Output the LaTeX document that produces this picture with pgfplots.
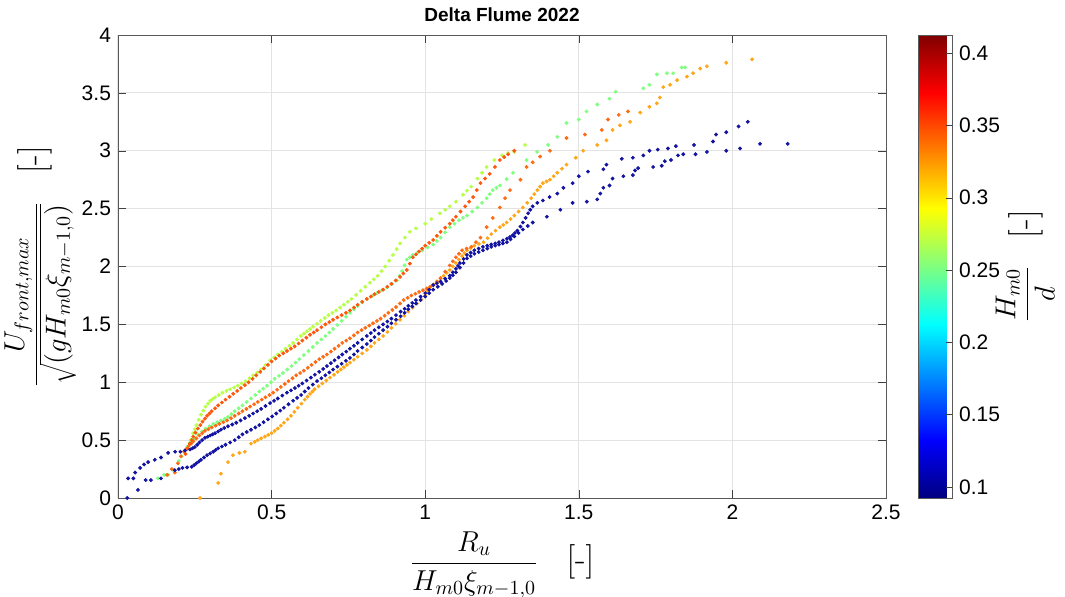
\documentclass[border=0pt]{standalone}
\usepackage{fontspec}
\setmainfont{Liberation Sans}
\newfontfamily\lmr{Latin Modern Roman}
\usepackage{pgfplots}
\pgfplotsset{compat=1.18}
\definecolor{cblue}{rgb}{0.08,0.08,0.64}
\definecolor{cgreen}{rgb}{0.5,1,0.5}
\definecolor{cyg}{rgb}{0.72,1,0.28}
\definecolor{corange}{rgb}{1,0.65,0.1}
\definecolor{cred}{rgb}{1,0.34,0.05}
\definecolor{cred2}{rgb}{1,0.42,0.08}
\pgfplotsset{dots/.style={only marks, mark=*, mark size=0.75pt}}

\pgfplotstableread{
x y
0.033 0.17
0.050 0.17
0.056 0.22
0.072 0.26
0.085 0.29
0.098 0.31
0.120 0.33
0.140 0.35
0.163 0.39
0.186 0.40
0.203 0.40
0.218 0.41
0.235 0.42
0.243 0.43
0.250 0.44
0.258 0.46
0.265 0.48
0.274 0.50
0.283 0.52
0.292 0.53
0.300 0.54
0.308 0.55
0.316 0.56
0.326 0.575
0.335 0.59
0.346 0.605
0.358 0.62
0.372 0.635
0.385 0.65
0.399 0.67
0.413 0.69
0.427 0.71
0.440 0.73
0.453 0.75
0.466 0.77
0.480 0.795
0.495 0.82
0.508 0.84
0.520 0.86
0.535 0.885
0.550 0.91
0.563 0.93
0.576 0.95
0.588 0.97
0.600 0.99
0.614 1.015
0.628 1.04
0.641 1.065
0.655 1.09
0.668 1.115
0.680 1.14
0.693 1.165
0.705 1.19
0.718 1.215
0.730 1.24
0.743 1.265
0.755 1.29
0.768 1.315
0.780 1.34
0.795 1.37
0.810 1.40
0.823 1.425
0.835 1.45
0.849 1.475
0.863 1.50
0.877 1.525
0.890 1.55
0.905 1.58
0.920 1.61
0.933 1.635
0.945 1.66
0.958 1.685
0.970 1.71
0.985 1.74
1.000 1.77
1.013 1.80
1.026 1.84
1.038 1.855
1.050 1.87
1.065 1.895
1.080 1.92
1.090 1.95
1.100 1.98
1.107 2.005
1.113 2.03
1.125 2.065
1.136 2.10
1.148 2.12
1.160 2.14
1.174 2.155
1.188 2.17
1.202 2.18
1.215 2.19
1.228 2.20
1.240 2.21
1.253 2.225
1.266 2.24
1.276 2.255
1.285 2.27
1.292 2.29
1.300 2.31
1.310 2.345
1.318 2.38
1.327 2.42
1.335 2.46
1.342 2.49
1.350 2.52
1.365 2.55
1.383 2.57
1.405 2.60
1.430 2.63
1.450 2.68
1.480 2.72
1.500 2.78
1.530 2.82
1.580 2.84
1.590 2.88
1.640 2.93
1.676 2.94
1.710 2.96
1.730 3.00
1.757 3.01
1.790 3.02
1.816 3.04
1.875 3.05
1.937 3.08
1.947 3.14
1.980 3.16
2.020 3.21
2.050 3.25
}\blueA

\pgfplotstableread{
x y
0.030 0.00
0.065 0.07
0.090 0.155
0.107 0.155
0.140 0.17
0.185 0.24
0.198 0.25
0.210 0.26
0.225 0.265
0.240 0.27
0.248 0.285
0.255 0.30
0.263 0.315
0.270 0.33
0.280 0.35
0.290 0.37
0.300 0.385
0.310 0.40
0.318 0.415
0.326 0.43
0.338 0.445
0.350 0.46
0.365 0.48
0.380 0.50
0.393 0.525
0.405 0.55
0.419 0.57
0.433 0.59
0.447 0.61
0.460 0.63
0.474 0.655
0.488 0.68
0.502 0.705
0.515 0.73
0.528 0.755
0.540 0.78
0.555 0.81
0.570 0.84
0.583 0.865
0.596 0.89
0.608 0.92
0.620 0.95
0.634 0.98
0.648 1.01
0.662 1.035
0.675 1.06
0.688 1.085
0.700 1.11
0.714 1.135
0.728 1.16
0.742 1.185
0.755 1.21
0.768 1.24
0.780 1.27
0.795 1.30
0.810 1.33
0.823 1.36
0.835 1.39
0.849 1.42
0.863 1.45
0.877 1.48
0.890 1.51
0.905 1.54
0.920 1.57
0.933 1.60
0.945 1.63
0.958 1.655
0.970 1.68
0.985 1.71
1.000 1.74
1.013 1.77
1.026 1.80
1.041 1.825
1.055 1.85
1.068 1.875
1.080 1.90
1.090 1.925
1.100 1.95
1.113 1.99
1.125 2.03
1.136 2.07
1.148 2.09
1.160 2.11
1.174 2.125
1.188 2.14
1.202 2.155
1.215 2.17
1.228 2.18
1.240 2.19
1.253 2.20
1.266 2.21
1.278 2.235
1.290 2.26
1.304 2.29
1.318 2.32
1.334 2.35
1.350 2.38
1.396 2.43
1.440 2.49
1.480 2.55
1.526 2.56
1.560 2.58
1.570 2.63
1.580 2.68
1.600 2.70
1.610 2.76
1.645 2.78
1.676 2.79
1.683 2.83
1.693 2.85
1.742 2.86
1.770 2.87
1.780 2.91
1.800 2.92
1.823 2.96
1.840 2.97
1.880 2.97
1.917 2.99
1.980 3.00
2.025 3.02
2.090 3.06
2.180 3.06
}\blueB

\pgfplotstableread{
x y
0.267 0.00
0.326 0.13
0.335 0.21
0.358 0.31
0.374 0.37
0.395 0.39
0.413 0.40
0.433 0.47
0.445 0.485
0.455 0.50
0.466 0.515
0.478 0.53
0.489 0.545
0.500 0.56
0.510 0.58
0.520 0.60
0.530 0.625
0.540 0.65
0.552 0.68
0.563 0.71
0.574 0.745
0.585 0.78
0.597 0.815
0.608 0.85
0.617 0.875
0.625 0.90
0.633 0.92
0.640 0.94
0.653 0.965
0.665 0.99
0.678 1.015
0.690 1.04
0.703 1.065
0.715 1.09
0.725 1.11
0.735 1.13
0.745 1.15
0.755 1.17
0.768 1.195
0.780 1.22
0.795 1.25
0.810 1.28
0.823 1.31
0.835 1.34
0.849 1.37
0.863 1.40
0.877 1.435
0.890 1.47
0.904 1.505
0.918 1.54
0.932 1.575
0.945 1.61
0.959 1.645
0.973 1.68
0.987 1.715
1.000 1.75
1.008 1.785
1.016 1.82
1.028 1.845
1.040 1.87
1.050 1.895
1.060 1.92
1.070 1.945
1.080 1.97
1.090 2.00
1.100 2.03
1.110 2.06
1.120 2.09
1.128 2.115
1.136 2.14
1.148 2.16
1.160 2.18
1.175 2.195
1.190 2.21
1.203 2.245
1.215 2.28
1.229 2.31
1.243 2.34
1.254 2.36
1.265 2.38
1.278 2.41
1.290 2.44
1.304 2.475
1.318 2.51
1.332 2.55
1.345 2.59
1.355 2.625
1.365 2.66
1.374 2.69
1.383 2.72
1.395 2.735
1.406 2.75
1.418 2.78
1.430 2.81
1.445 2.845
1.460 2.88
1.490 2.94
1.514 3.00
1.560 3.05
1.590 3.09
1.610 3.18
1.634 3.22
1.667 3.25
1.700 3.33
1.730 3.38
1.754 3.41
1.764 3.46
1.775 3.55
1.797 3.57
1.820 3.61
1.852 3.64
1.872 3.67
1.895 3.71
1.917 3.73
1.980 3.76
2.064 3.79
}\orangeS

\pgfplotstableread{
x y
0.160 0.20
0.175 0.25
0.185 0.22
0.195 0.30
0.205 0.36
0.215 0.40
0.223 0.425
0.230 0.45
0.238 0.47
0.245 0.49
0.255 0.515
0.265 0.54
0.274 0.56
0.283 0.58
0.294 0.595
0.305 0.61
0.318 0.625
0.330 0.64
0.343 0.655
0.355 0.67
0.368 0.69
0.380 0.71
0.393 0.73
0.405 0.75
0.418 0.77
0.430 0.79
0.443 0.81
0.455 0.83
0.468 0.85
0.480 0.87
0.493 0.89
0.505 0.91
0.518 0.935
0.530 0.96
0.543 0.985
0.555 1.01
0.568 1.035
0.580 1.06
0.593 1.08
0.605 1.10
0.618 1.125
0.630 1.15
0.643 1.175
0.655 1.20
0.668 1.22
0.680 1.24
0.693 1.265
0.705 1.29
0.718 1.315
0.730 1.34
0.743 1.36
0.755 1.38
0.768 1.405
0.780 1.43
0.793 1.45
0.805 1.47
0.818 1.49
0.830 1.51
0.843 1.53
0.855 1.55
0.868 1.575
0.880 1.60
0.893 1.625
0.905 1.65
0.918 1.68
0.930 1.71
0.943 1.73
0.955 1.75
0.968 1.765
0.980 1.78
0.993 1.795
1.005 1.81
1.016 1.825
1.026 1.84
1.038 1.87
1.050 1.90
1.065 1.955
1.080 2.01
1.090 2.045
1.100 2.08
1.110 2.11
1.120 2.14
1.135 2.155
1.150 2.17
1.165 2.21
1.180 2.25
1.200 2.34
1.220 2.42
1.243 2.51
1.260 2.59
1.276 2.66
1.310 2.75
1.330 2.86
1.350 2.90
1.374 2.95
1.406 3.00
1.460 3.11
1.520 3.14
1.575 3.18
1.595 3.27
1.630 3.31
1.660 3.34
}\redB

\pgfplotstableread{
x y
0.220 0.38
0.227 0.425
0.234 0.47
0.240 0.50
0.245 0.53
0.252 0.565
0.260 0.60
0.268 0.63
0.275 0.66
0.283 0.685
0.290 0.71
0.298 0.73
0.305 0.75
0.316 0.775
0.326 0.80
0.338 0.825
0.350 0.85
0.363 0.875
0.375 0.90
0.388 0.925
0.400 0.95
0.413 0.975
0.425 1.00
0.438 1.03
0.450 1.06
0.463 1.09
0.475 1.12
0.488 1.15
0.500 1.18
0.513 1.205
0.525 1.23
0.538 1.25
0.550 1.27
0.563 1.29
0.575 1.31
0.588 1.335
0.600 1.36
0.613 1.385
0.625 1.41
0.637 1.43
0.648 1.45
0.662 1.475
0.675 1.50
0.688 1.52
0.700 1.54
0.714 1.56
0.728 1.58
0.742 1.60
0.755 1.62
0.768 1.645
0.780 1.67
0.795 1.695
0.810 1.72
0.823 1.74
0.835 1.76
0.849 1.78
0.863 1.80
0.877 1.825
0.890 1.85
0.904 1.88
0.918 1.91
0.929 1.94
0.940 1.97
0.950 2.025
0.960 2.08
0.970 2.105
0.980 2.13
0.990 2.155
1.000 2.18
1.013 2.205
1.026 2.23
1.038 2.265
1.050 2.30
1.065 2.335
1.080 2.37
1.090 2.40
1.100 2.43
1.115 2.475
1.130 2.52
1.143 2.56
1.156 2.60
1.168 2.66
1.180 2.72
1.195 2.76
1.210 2.80
1.227 2.86
1.243 2.92
1.257 2.945
1.270 2.97
1.290 3.00
}\redA

\pgfplotstableread{
x y
0.230 0.45
0.237 0.505
0.244 0.56
0.250 0.595
0.255 0.63
0.263 0.675
0.270 0.72
0.278 0.755
0.285 0.79
0.293 0.815
0.300 0.84
0.308 0.855
0.316 0.87
0.328 0.89
0.340 0.91
0.353 0.925
0.365 0.94
0.378 0.955
0.390 0.97
0.403 0.99
0.415 1.01
0.428 1.035
0.440 1.06
0.453 1.085
0.465 1.11
0.480 1.15
0.495 1.19
0.508 1.215
0.520 1.24
0.533 1.265
0.545 1.29
0.558 1.315
0.570 1.34
0.583 1.37
0.595 1.40
0.605 1.42
0.615 1.44
0.625 1.46
0.635 1.48
0.648 1.505
0.660 1.53
0.673 1.555
0.685 1.58
0.698 1.60
0.710 1.62
0.723 1.645
0.735 1.67
0.748 1.695
0.760 1.72
0.775 1.755
0.790 1.79
0.805 1.825
0.820 1.86
0.833 1.89
0.845 1.92
0.858 1.96
0.870 2.00
0.883 2.05
0.895 2.10
0.907 2.15
0.918 2.20
0.934 2.25
0.950 2.30
0.970 2.33
1.000 2.37
1.020 2.41
1.048 2.46
1.065 2.49
1.080 2.52
1.100 2.56
1.123 2.62
1.136 2.655
1.150 2.69
1.170 2.76
1.185 2.81
1.200 2.86
1.225 2.92
1.250 2.96
1.270 2.98
1.290 2.99
1.325 3.05
}\ygS

\pgfplotstableread{
x y
0.130 0.17
0.150 0.20
0.163 0.20
0.180 0.24
0.198 0.32
0.207 0.36
0.215 0.40
0.225 0.44
0.235 0.48
0.248 0.515
0.260 0.55
0.273 0.575
0.285 0.60
0.298 0.62
0.310 0.64
0.323 0.655
0.335 0.67
0.347 0.685
0.358 0.70
0.369 0.725
0.380 0.75
0.393 0.775
0.405 0.80
0.419 0.83
0.433 0.86
0.447 0.89
0.460 0.92
0.473 0.945
0.485 0.97
0.498 1.00
0.510 1.03
0.524 1.055
0.537 1.08
0.551 1.11
0.565 1.14
0.578 1.17
0.590 1.20
0.605 1.235
0.620 1.27
0.634 1.305
0.648 1.34
0.662 1.37
0.675 1.40
0.688 1.43
0.700 1.46
0.714 1.495
0.728 1.53
0.742 1.565
0.755 1.60
0.768 1.63
0.780 1.66
0.795 1.69
0.810 1.72
0.827 1.745
0.843 1.77
0.859 1.795
0.875 1.82
0.892 1.85
0.908 1.88
0.917 1.92
0.925 1.96
0.933 2.01
0.940 2.06
0.950 2.08
0.960 2.10
0.975 2.12
0.990 2.14
1.008 2.165
1.026 2.19
1.038 2.22
1.050 2.25
1.065 2.295
1.080 2.34
1.095 2.37
1.110 2.40
1.123 2.42
1.136 2.44
1.153 2.475
1.170 2.51
1.185 2.55
1.200 2.59
1.210 2.625
1.220 2.66
1.232 2.68
1.243 2.70
1.265 2.755
1.286 2.81
1.330 2.92
1.364 2.99
1.400 3.05
1.430 3.12
1.460 3.24
1.500 3.27
1.525 3.34
1.560 3.40
1.600 3.45
1.620 3.51
1.710 3.54
1.730 3.57
1.754 3.66
1.787 3.67
1.807 3.67
1.835 3.72
1.846 3.72
}\greenS

\begin{document}
\begin{tikzpicture}
\path[use as bounding box] (-59pt,-49pt) rectangle (473.5pt,249pt);
\begin{axis}[
  at={(0,0)}, anchor=south west,
  scale only axis, width=384pt, height=231.5pt,
  xmin=0, xmax=2.5, ymin=0, ymax=4,
  xtick={0,0.5,1,1.5,2,2.5}, ytick={0,0.5,1,1.5,2,2.5,3,3.5,4},
  grid=major, grid style={gray!22, line width=0.5pt},
  tick align=inside, major tick length=4pt,
  axis line style={black!65}, tick style={black!75},
  /pgf/number format/assume math mode=true,
  ticklabel style={font=\fontsize{10.5}{12}\selectfont},
  title={\textbf{Delta Flume 2022}},
  title style={font=\fontsize{9.5}{11}\selectfont, yshift=-3pt},
  xlabel={\fontsize{14}{17}\selectfont$\displaystyle\frac{R_u}{H_{m0}\xi_{m-1,0}}$\quad{\lmr\LARGE[-]}},
  ylabel={\fontsize{14}{17}\selectfont$\displaystyle\frac{U_{front,max}}{\sqrt{(gH_{m0}\xi_{m-1,0})}}$\quad{\lmr\LARGE[-]}},
  xlabel style={yshift=1pt},
  ylabel style={yshift=-4pt},
  colorbar, colormap/jet,
  point meta min=0.0924, point meta max=0.4125,
  colorbar style={
    at={(1.0417,1)}, anchor=north west, width=17pt,
    ytick={0.1,0.15,0.2,0.25,0.3,0.35,0.4},
    yticklabels={0.1,0.15,0.2,0.25,0.3,0.35,0.4},
    ytick pos=right, tick align=inside, major tick length=3pt,
    axis line style={black!65}, tick style={black!75},
    /pgf/number format/assume math mode=true,
    yticklabel style={font=\fontsize{10.5}{12}\selectfont},
    ylabel={\fontsize{14}{17}\selectfont$\displaystyle\frac{H_{m0}}{d}$\quad{\lmr\LARGE[-]}},
    ylabel style={yshift=9pt},
  },
]
\addplot[dots, color=cgreen] table {\greenS};
\addplot[dots, color=cyg] table {\ygS};
\addplot[dots, color=corange] table {\orangeS};
\addplot[dots, color=cred2] table {\redB};
\addplot[dots, color=cred] table {\redA};
\addplot[dots, color=cblue] table {\blueA};
\addplot[dots, color=cblue] table {\blueB};
\end{axis}
\end{tikzpicture}
\end{document}
